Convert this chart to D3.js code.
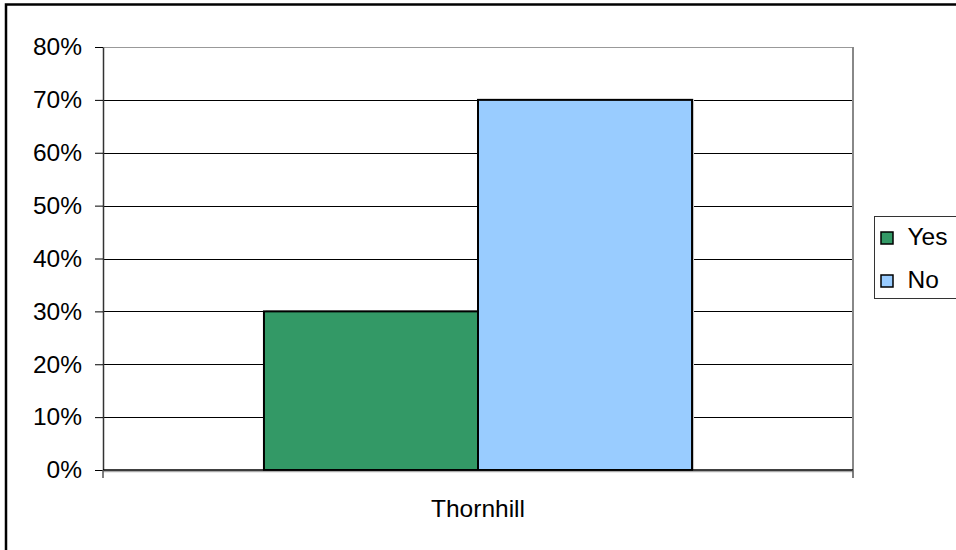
<!DOCTYPE html>
<html>
<head>
<meta charset="utf-8">
<script src="https://cdn.jsdelivr.net/npm/d3@7"></script>
<style>
  html, body { margin: 0; padding: 0; background: #fff; }
  svg { display: block; font-family: Arial, "Liberation Sans", sans-serif; }
</style>
</head>
<body>
<svg id="chart" width="956" height="550"></svg>
<script>
// Survey answers for Thornhill
const categories = ["Thornhill"];
const seriesNames = ["Yes", "No"];
const seriesValues = [0.30, 0.70];
const seriesColors = ["#339966", "#99CCFF"];
const yTicks = [0, 0.1, 0.2, 0.3, 0.4, 0.5, 0.6, 0.7, 0.8];

const svg = d3.select("#chart");
const plot = { left: 103, right: 853, top: 47, bottom: 470 };
const fontSize = 24.5;

// Outer frame of the chart area
svg.append("rect")
  .attr("x", 6).attr("y", 4.5)
  .attr("width", 1000).attr("height", 600)
  .attr("fill", "none").attr("stroke", "#000").attr("stroke-width", 2.5);

const y = d3.scaleLinear().domain([0, 0.8]).range([plot.bottom, plot.top]);
const x0 = d3.scaleBand().domain(categories)
  .range([plot.left, plot.right]).paddingInner(0).paddingOuter(0.376);
const x1 = d3.scaleBand().domain(seriesNames).range([0, x0.bandwidth()]);

// Horizontal gridlines
svg.append("g").selectAll("line")
  .data(yTicks.filter(t => t > 0))
  .join("line")
  .attr("x1", plot.left).attr("x2", plot.right)
  .attr("y1", d => Math.round(y(d)) + 0.5).attr("y2", d => Math.round(y(d)) + 0.5)
  .attr("stroke", (d, i, n) => i === n.length - 1 ? "#999" : "#000")
  .attr("stroke-width", 1);

// Plot area right edge
svg.append("line")
  .attr("x1", plot.right).attr("x2", plot.right)
  .attr("y1", plot.top).attr("y2", plot.bottom)
  .attr("stroke", "#888").attr("stroke-width", 2);

// Bars with a soft shadow
const data = seriesNames.map((s, i) => ({ cat: categories[0], name: s, value: seriesValues[i], color: seriesColors[i] }));
const bars = svg.append("g");
bars.selectAll("rect.shadow")
  .data(data)
  .join("rect")
  .attr("class", "shadow")
  .attr("x", d => x0(d.cat) + x1(d.name) + 2)
  .attr("y", d => y(d.value) - 1)
  .attr("width", x1.bandwidth())
  .attr("height", d => plot.bottom - y(d.value) + 1)
  .attr("fill", "#d0d0d0");
bars.selectAll("rect.bar")
  .data(data)
  .join("rect")
  .attr("class", "bar")
  .attr("x", d => x0(d.cat) + x1(d.name))
  .attr("y", d => y(d.value))
  .attr("width", x1.bandwidth())
  .attr("height", d => plot.bottom - y(d.value))
  .attr("fill", d => d.color)
  .attr("stroke", "#000").attr("stroke-width", 2);

// Value axis
const yAxis = d3.axisLeft(y).tickValues(yTicks).tickFormat(d3.format(".0%"))
  .tickSizeInner(8).tickSizeOuter(0).tickPadding(13);
const gy = svg.append("g").attr("transform", `translate(${plot.left},0)`).call(yAxis);
gy.select(".domain").attr("stroke", "#333").attr("stroke-width", 1.5);
gy.selectAll(".tick line").attr("stroke", "#000");
gy.selectAll(".tick text")
  .attr("font-size", fontSize).attr("fill", "#000")
  .attr("font-family", "Arial, 'Liberation Sans', sans-serif");

// Category axis
svg.append("line")
  .attr("x1", plot.left).attr("x2", plot.right)
  .attr("y1", plot.bottom + 1.5).attr("y2", plot.bottom + 1.5)
  .attr("stroke", "#aaa").attr("stroke-width", 1.5);
svg.append("line")
  .attr("x1", plot.left).attr("x2", plot.right)
  .attr("y1", plot.bottom).attr("y2", plot.bottom)
  .attr("stroke", "#000").attr("stroke-width", 1.5);
const edgeTicks = d3.scaleBand().domain(categories).range([plot.left, plot.right]);
svg.append("g").selectAll("line")
  .data([edgeTicks.range()[0], edgeTicks.range()[1]])
  .join("line")
  .attr("x1", d => d).attr("x2", d => d)
  .attr("y1", plot.bottom).attr("y2", plot.bottom + 8)
  .attr("stroke", "#555").attr("stroke-width", 1.5);
svg.append("g").selectAll("text")
  .data(categories)
  .join("text")
  .attr("x", d => x0(d) + x0.bandwidth() / 2)
  .attr("y", 517)
  .attr("text-anchor", "middle")
  .attr("font-size", fontSize)
  .text(d => d);

// Legend
const legend = svg.append("g").attr("transform", "translate(874.5,216.5)");
legend.append("rect")
  .attr("width", 90).attr("height", 82)
  .attr("fill", "#fff").attr("stroke", "#333").attr("stroke-width", 1);
const items = legend.selectAll("g.item")
  .data(data)
  .join("g")
  .attr("class", "item")
  .attr("transform", (d, i) => `translate(0,${i * 43})`);
items.append("rect")
  .attr("x", 6.5).attr("y", 15.5)
  .attr("width", 12).attr("height", 12)
  .attr("fill", d => d.color).attr("stroke", "#000").attr("stroke-width", 1.5);
items.append("text")
  .attr("x", 33).attr("y", 28)
  .attr("font-size", fontSize)
  .text(d => d.name);
</script>
</body>
</html>
